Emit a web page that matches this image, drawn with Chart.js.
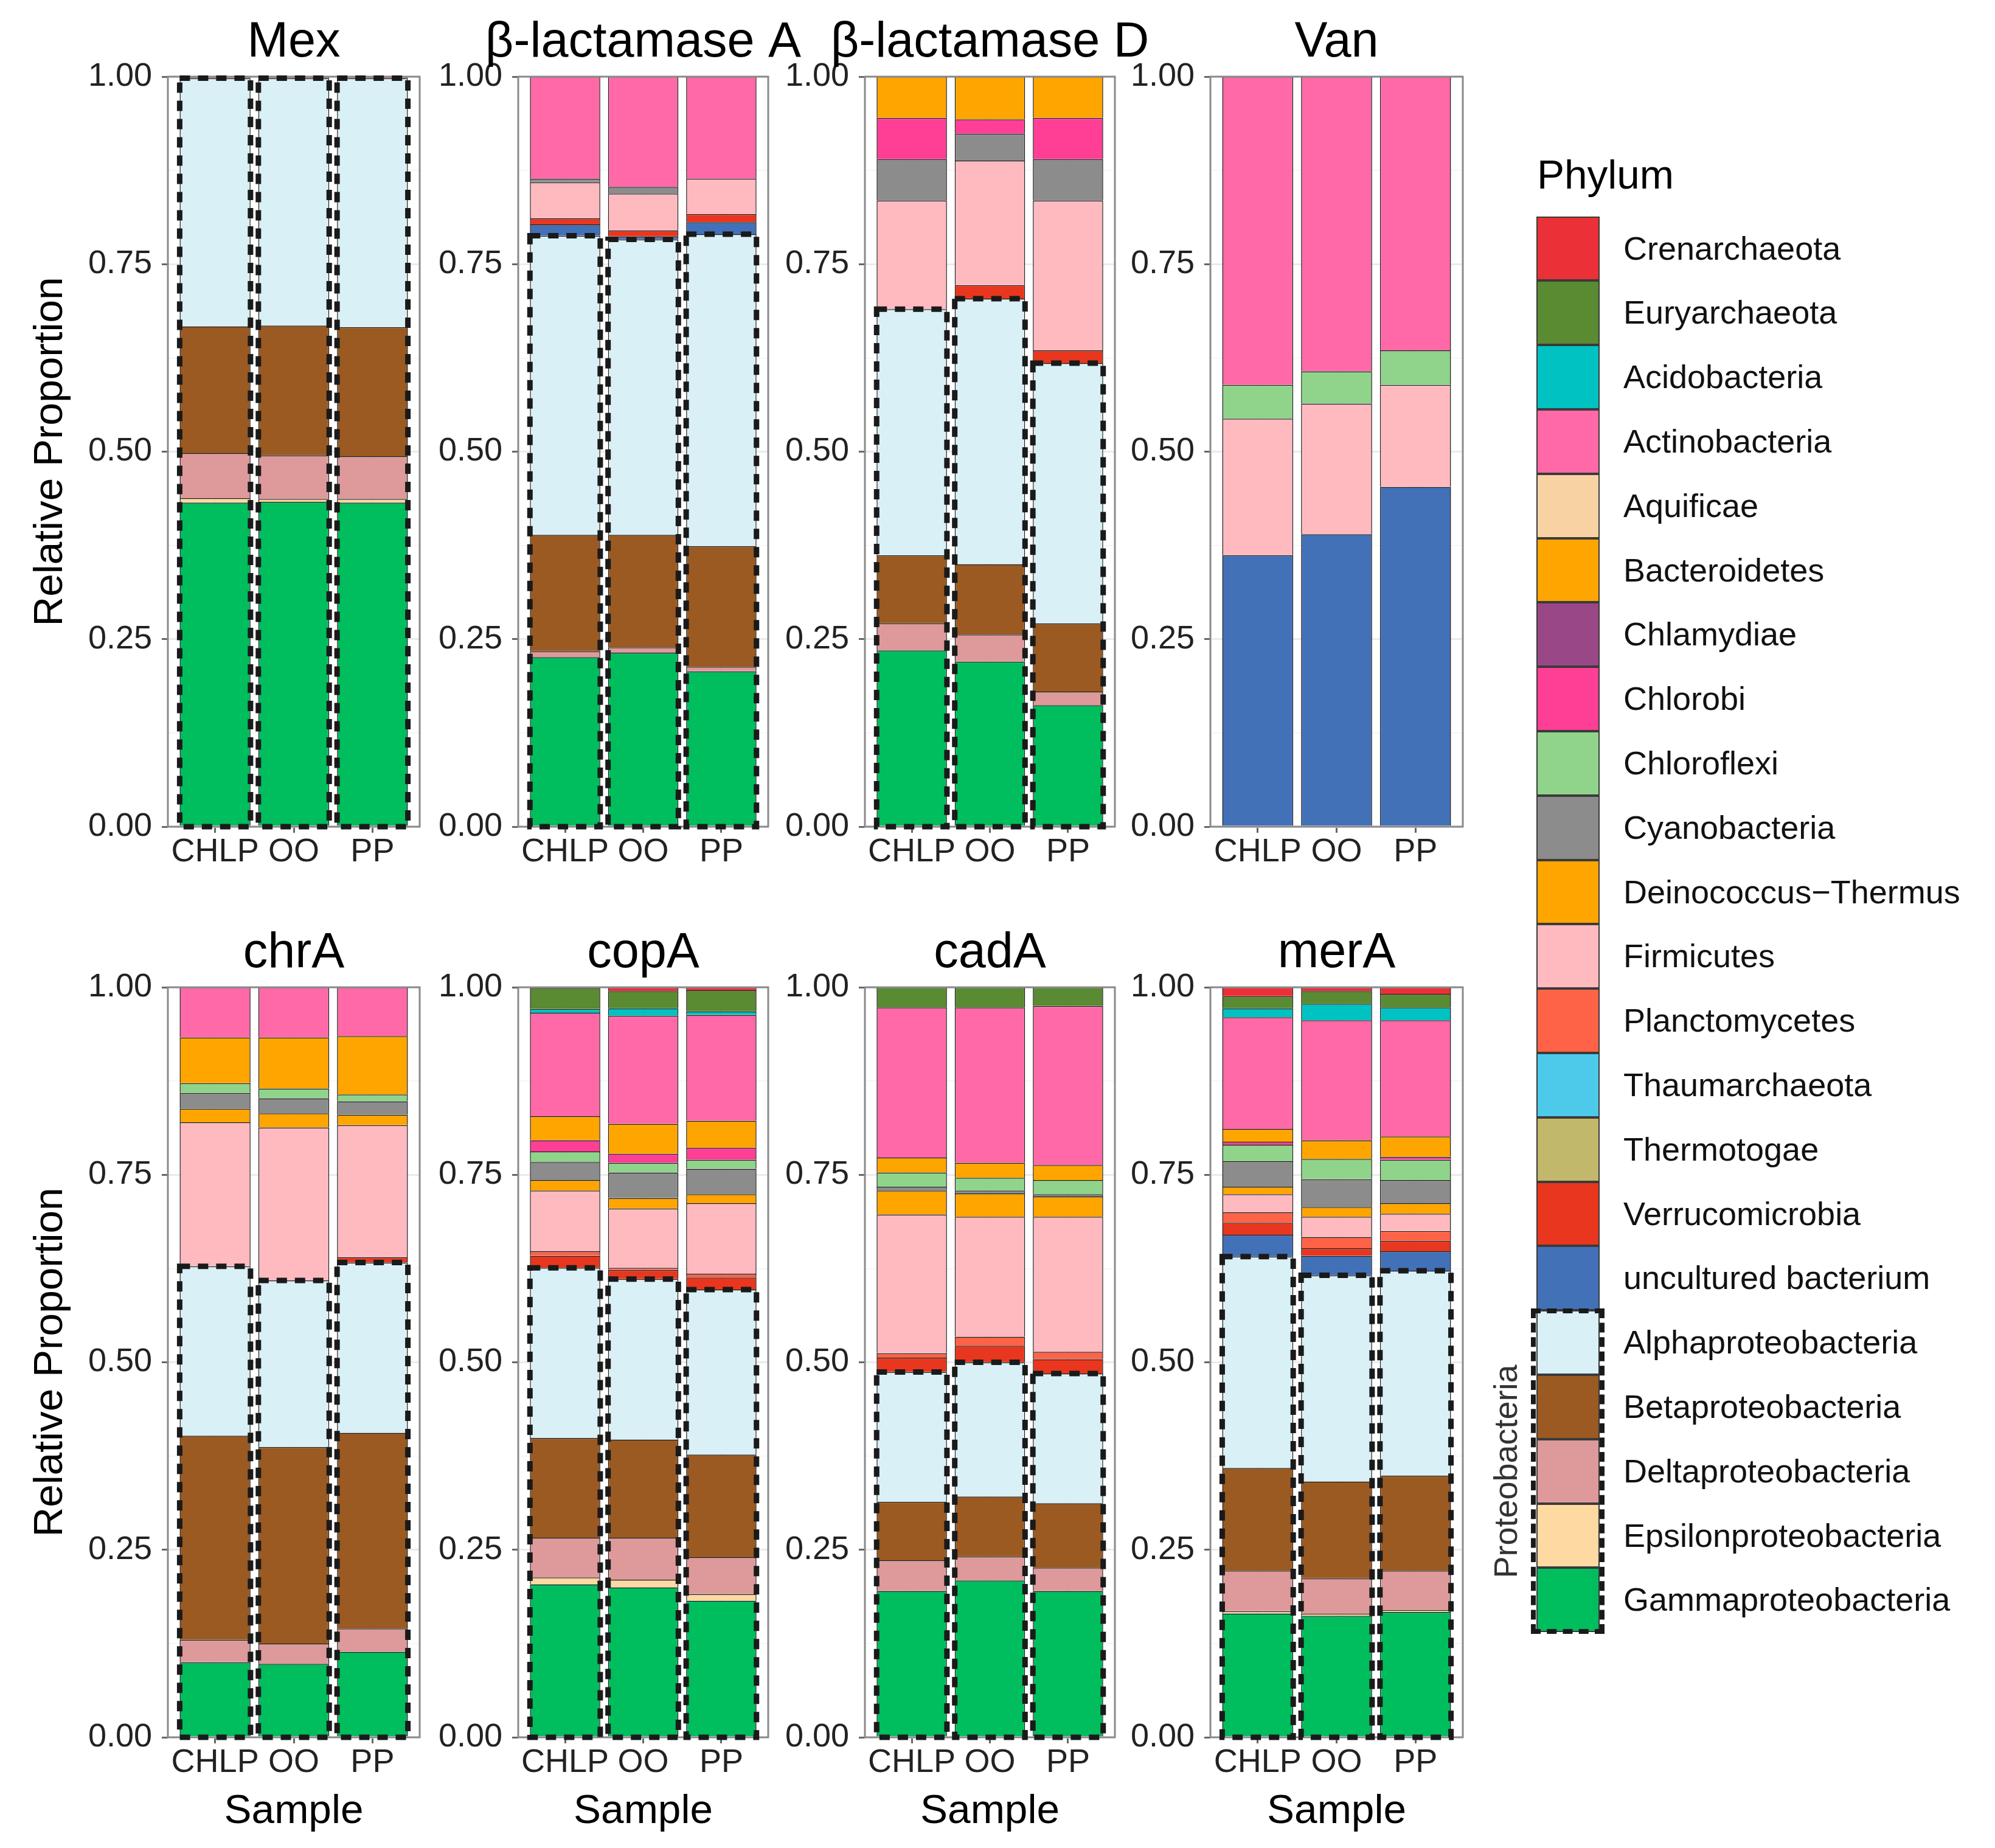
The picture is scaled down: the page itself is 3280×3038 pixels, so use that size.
<!DOCTYPE html>
<html>
<head>
<meta charset="utf-8">
<title>Phylum composition</title>
<script src="https://cdn.jsdelivr.net/npm/chart.js@4.4.1/dist/chart.umd.min.js"></script>
<style>
  body { margin: 0; background: #fff; width: 3280px; height: 3038px; position: relative; overflow: hidden;
         font-family: "Liberation Sans", Arial, Helvetica, sans-serif; }
  .panel { position: absolute; }
  .key { position: absolute; box-sizing: border-box; border: 2px solid #3a3a3a; }
  .lab { position: absolute; font-size: 54px; color: #111; white-space: nowrap; }
</style>
</head>
<body>
<div id="charts"></div>
<div id="legend"></div>
<script>
// legend order = top of the stack first
const phyla = ['Crenarchaeota', 'Euryarchaeota', 'Acidobacteria', 'Actinobacteria', 'Aquificae',
  'Bacteroidetes', 'Chlamydiae', 'Chlorobi', 'Chloroflexi', 'Cyanobacteria', 'Deinococcus\u2212Thermus',
  'Firmicutes', 'Planctomycetes', 'Thaumarchaeota', 'Thermotogae', 'Verrucomicrobia', 'uncultured bacterium',
  'Alphaproteobacteria', 'Betaproteobacteria', 'Deltaproteobacteria', 'Epsilonproteobacteria', 'Gammaproteobacteria'];
const colors = ['#EC3037', '#5A8A32', '#00C2C2', '#FF69A7', '#F9D2A3',
  '#FFA500', '#9A4788', '#FF3E96', '#8FD48A', '#8C8C8C', '#FFA500',
  '#FFBAC0', '#FF6347', '#4DCAE9', '#C1B86B', '#E8371E', '#4271B8',
  '#D8F0F6', '#9A5A22', '#DE9A9B', '#FFD9A2', '#00BD5E'];
const proteoFirst = 17; // Alpha..Gamma are grouped as Proteobacteria

const samples = ['CHLP', 'OO', 'PP'];
const titles = ['Mex', '\u03B2-lactamase A', '\u03B2-lactamase D', 'Van', 'chrA', 'copA', 'cadA', 'merA'];

// relative proportions, same order as phyla
const mex_CHLP = [0,0,0,0,0,0,0,0,0,0,0,0,0,0,0,0.002,0,0.331,0.169,0.060,0.006,0.432];
const mex_OO   = [0,0,0,0,0,0,0,0,0,0,0,0,0,0,0,0.002,0,0.330,0.173,0.058,0.004,0.433];
const mex_PP   = [0,0,0,0,0,0,0,0,0,0,0,0,0,0,0,0.002,0,0.332,0.172,0.057,0.005,0.432];

const blaA_CHLP = [0,0,0,0.136,0,0,0,0,0,0.005,0,0.048,0,0,0,0.008,0.015,0.399,0.155,0.008,0,0.226];
const blaA_OO   = [0,0,0,0.147,0,0,0,0,0,0.009,0,0.049,0,0,0,0.008,0.004,0.394,0.150,0.007,0,0.232];
const blaA_PP   = [0,0,0,0.136,0,0,0,0,0,0,0,0.047,0,0,0,0.011,0.016,0.416,0.161,0.006,0,0.207];

const blaD_CHLP = [0,0,0,0,0,0.055,0,0.055,0,0.055,0,0.145,0,0,0,0,0,0.328,0.091,0.036,0,0.235];
const blaD_OO   = [0,0,0,0,0,0.057,0,0.019,0,0.036,0,0.166,0,0,0,0.018,0,0.354,0.094,0.036,0,0.220];
const blaD_PP   = [0,0,0,0,0,0.055,0,0.055,0,0.055,0,0.200,0,0,0,0.017,0,0.347,0.091,0.018,0,0.162];

const van_CHLP = [0,0,0,0.411,0,0,0,0,0.045,0,0,0.182,0,0,0,0,0.362,0,0,0,0,0];
const van_OO   = [0,0,0,0.393,0,0,0,0,0.043,0,0,0.174,0,0,0,0,0.390,0,0,0,0,0];
const van_PP   = [0,0,0,0.365,0,0,0,0,0.046,0,0,0.136,0,0,0,0,0.453,0,0,0,0,0];

const chrA_CHLP = [0,0,0,0.067,0,0.061,0,0,0.013,0.021,0.018,0.192,0,0,0,0,0,0.226,0.272,0.030,0,0.100];
const chrA_OO   = [0,0,0,0.067,0,0.068,0,0,0.013,0.020,0.019,0.204,0,0,0,0,0,0.222,0.262,0.027,0,0.098];
const chrA_PP   = [0,0,0,0.065,0,0.078,0,0,0.009,0.018,0.014,0.176,0,0,0,0.007,0,0.227,0.261,0.031,0,0.114];

const copA_CHLP = [0.001,0.028,0.005,0.138,0,0.032,0,0.015,0.014,0.024,0.014,0.081,0.006,0,0,0.016,0,0.227,0.133,0.053,0.009,0.204];
const copA_OO   = [0.005,0.023,0.010,0.144,0,0.040,0,0.012,0.013,0.034,0.014,0.079,0.003,0,0,0.012,0,0.214,0.131,0.056,0.010,0.200];
const copA_PP   = [0.004,0.028,0.005,0.141,0,0.036,0,0.016,0.012,0.034,0.012,0.094,0.005,0,0,0.016,0,0.220,0.137,0.049,0.009,0.182];

const cadA_CHLP = [0,0.027,0,0.200,0,0.020,0,0,0.019,0.005,0.032,0.185,0.006,0,0,0.019,0,0.173,0.078,0.041,0,0.195];
const cadA_OO   = [0,0.027,0,0.207,0,0.020,0,0,0.017,0.004,0.031,0.160,0.012,0,0,0.022,0,0.179,0.080,0.032,0,0.209];
const cadA_PP   = [0,0.025,0,0.212,0,0.020,0,0,0.019,0.003,0.027,0.180,0.010,0,0,0.019,0,0.173,0.086,0.031,0,0.195];

const merA_CHLP = [0.012,0.016,0.012,0.149,0,0.017,0,0.004,0.022,0.034,0.010,0.024,0.014,0,0,0.016,0.029,0.282,0.137,0.054,0.003,0.165];
const merA_OO   = [0.005,0.017,0.022,0.160,0,0.025,0,0,0.027,0.037,0.013,0.027,0.015,0,0,0.010,0.026,0.275,0.129,0.047,0.003,0.162];
const merA_PP   = [0.009,0.018,0.017,0.155,0,0.027,0,0.004,0.027,0.031,0.014,0.023,0.013,0,0,0.014,0.026,0.273,0.127,0.052,0.003,0.167];

const panels = [
  [mex_CHLP, mex_OO, mex_PP], [blaA_CHLP, blaA_OO, blaA_PP],
  [blaD_CHLP, blaD_OO, blaD_PP], [van_CHLP, van_OO, van_PP],
  [chrA_CHLP, chrA_OO, chrA_PP], [copA_CHLP, copA_OO, copA_PP],
  [cadA_CHLP, cadA_OO, cadA_PP], [merA_CHLP, merA_OO, merA_PP]
];

// page geometry (plot area of each panel)
const areaLeft = [276, 852, 1422, 1990];
const areaWidth = [414, 411, 411, 415];
const areaTop = [126, 1623];
const areaH = 1233;
const titleH = 126;
const rightRoom = 80; // lets a long title run past the panel

Chart.defaults.font.family = '"Liberation Sans", Arial, Helvetica, sans-serif';

const isMajor = (v) => Math.round(v * 8) % 2 === 0;

// panel border, dashed Proteobacteria box and panel title
const framePlugin = {
  id: 'frame',
  afterDatasetsDraw(chart, args, opts) {
    const ctx = chart.ctx;
    const a = chart.chartArea;
    const x = chart.scales.x, y = chart.scales.y;
    ctx.save();
    ctx.strokeStyle = '#8a8a8a';
    ctx.lineWidth = 3;
    ctx.strokeRect(a.left, a.top, a.right - a.left, a.bottom - a.top);

    const gammaMeta = chart.getDatasetMeta(0);
    opts.proteo.forEach(function(sum, i) {
      if (!(sum > 0)) return;
      const w = gammaMeta.data[i].width;
      const cx = x.getPixelForValue(i + 1);
      const top = y.getPixelForValue(sum);
      const bottom = y.getPixelForValue(0);
      ctx.setLineDash([17, 13]);
      ctx.lineWidth = 9;
      ctx.strokeStyle = '#1a1a1a';
      ctx.strokeRect(cx - w / 2, top, w, bottom - top);
    });

    // title centred on the panel, allowed to run past its edges
    ctx.setLineDash([]);
    ctx.fillStyle = '#000';
    ctx.font = '81px "Liberation Sans", Arial, Helvetica, sans-serif';
    ctx.textAlign = 'center';
    ctx.textBaseline = 'alphabetic';
    ctx.fillText(opts.title, (a.left + a.right) / 2, a.top - 33);
    ctx.restore();
  }
};

const holder = document.getElementById('charts');

panels.forEach(function(vals, p) {
  const r = Math.floor(p / 4), c = p % 4;
  const yw = c === 0 ? 276 : 150;
  const xh = r === 0 ? 110 : 182;
  const cw = yw + areaWidth[c] + rightRoom;
  const ch = titleH + areaH + xh;

  const box = document.createElement('div');
  box.className = 'panel';
  box.style.left = (areaLeft[c] - yw) + 'px';
  box.style.top = (areaTop[r] - titleH) + 'px';
  box.style.width = cw + 'px';
  box.style.height = ch + 'px';
  const cv = document.createElement('canvas');
  cv.width = cw; cv.height = ch;
  cv.style.width = cw + 'px'; cv.style.height = ch + 'px';
  box.appendChild(cv);
  holder.appendChild(box);

  // datasets from the bottom of the stack upwards
  let datasets = [];
  for (let k = phyla.length - 1; k >= 0; k--) {
    datasets.push({
      label: phyla[k],
      data: vals.map((s, i) => ({ x: i + 1, y: s[k] > 0 ? s[k] : null })),
      backgroundColor: colors[k],
      borderColor: '#1a1a1a',
      borderWidth: 1.5,
      barPercentage: 0.9,
      categoryPercentage: 1.0
    });
  }
  const proteo = vals.map(s => s.slice(proteoFirst).reduce((a, b) => a + b, 0));

  new Chart(cv.getContext('2d'), {
    type: 'bar',
    data: { datasets: datasets },
    plugins: [framePlugin],
    options: {
      responsive: false,
      animation: false,
      layout: { padding: { left: 0, right: rightRoom, top: titleH, bottom: 0 } },
      plugins: {
        legend: { display: false },
        tooltip: { enabled: false },
        title: { display: false },
        frame: { proteo: proteo, title: titles[p] }
      },
      scales: {
        x: {
          type: 'linear', min: 0.4, max: 3.6, stacked: true, offset: false,
          afterBuildTicks: (s) => { s.ticks = [{ value: 1 }, { value: 2 }, { value: 3 }]; },
          afterFit: (s) => { s.height = xh; },
          border: { display: false },
          grid: { offset: false, color: '#EBEBEB', lineWidth: 3, tickColor: '#666', tickLength: 10 },
          ticks: {
            autoSkip: false, maxRotation: 0, minRotation: 0, padding: 5, color: '#222',
            font: { size: 54, lineHeight: 1 },
            callback: (v) => samples[Math.round(v) - 1]
          },
          title: {
            display: r === 1, text: 'Sample', color: '#000',
            font: { size: 67.5 }, padding: { top: 0, bottom: 19 }
          }
        },
        y: {
          min: 0, max: 1, stacked: true,
          afterFit: (s) => { s.width = yw; },
          border: { display: false },
          grid: {
            color: (ctx) => isMajor(ctx.tick.value) ? '#EBEBEB' : '#F3F3F3',
            lineWidth: (ctx) => isMajor(ctx.tick.value) ? 3 : 1.5,
            tickColor: (ctx) => isMajor(ctx.tick.value) ? '#666' : 'rgba(0,0,0,0)',
            tickLength: 10
          },
          ticks: {
            stepSize: 0.125, padding: 16, color: '#222', font: { size: 54 },
            callback: (v) => isMajor(v) ? v.toFixed(2) : ''
          },
          title: {
            display: c === 0, text: 'Relative Proportion', color: '#000',
            font: { size: 67.5 }, padding: { top: 43, bottom: 0 }
          }
        }
      }
    }
  });
});

// legend
const legend = document.getElementById('legend');
const keyTop = 355.6, keyH = 105.8, keyLeft = 2526, keyW = 104;

let ttl = document.createElement('div');
ttl.className = 'lab';
ttl.style.cssText = 'left:2527px; top:247px; height:80px; line-height:80px; font-size:67.5px; color:#000;';
ttl.textContent = 'Phylum';
legend.appendChild(ttl);

phyla.forEach(function(name, k) {
  const top = keyTop + k * keyH;
  const key = document.createElement('div');
  key.className = 'key';
  key.style.left = keyLeft + 'px';
  key.style.top = top + 'px';
  key.style.width = keyW + 'px';
  key.style.height = keyH + 'px';
  key.style.background = colors[k];
  legend.appendChild(key);

  const lab = document.createElement('div');
  lab.className = 'lab';
  lab.style.left = '2669px';
  lab.style.top = top + 'px';
  lab.style.height = keyH + 'px';
  lab.style.lineHeight = keyH + 'px';
  lab.textContent = name;
  legend.appendChild(lab);
});

// dashed bracket around the Proteobacteria classes
const pTop = keyTop + proteoFirst * keyH;
const pBottom = keyTop + phyla.length * keyH;
const dash = document.createElement('div');
dash.style.cssText = 'position:absolute; box-sizing:border-box; border:8px dashed #1a1a1a;' +
  'left:' + (keyLeft - 9) + 'px; top:' + (pTop - 3) + 'px; width:' + (keyW + 17) + 'px; height:' + (pBottom - pTop + 6) + 'px;';
legend.appendChild(dash);

const pl = document.createElement('div');
pl.className = 'lab';
pl.textContent = 'Proteobacteria';
pl.style.cssText += 'color:#333; left:' + (2475 - 200) + 'px; top:' + ((pTop + pBottom) / 2 - 35) + 'px; width:400px; height:70px;' +
  'line-height:70px; text-align:center; transform:rotate(-90deg);';
legend.appendChild(pl);
</script>
</body>
</html>
